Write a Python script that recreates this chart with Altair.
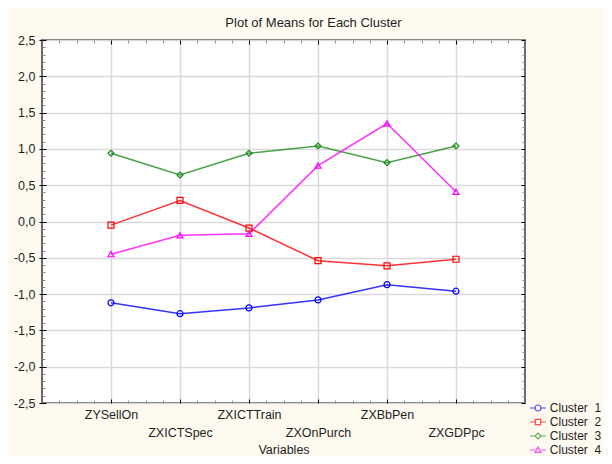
import json
import altair as alt
import pandas as pd

# ---------------- data ----------------
variables = ["ZYSellOn", "ZXICTSpec", "ZXICTTrain", "ZXOnPurch", "ZXBbPen", "ZXGDPpc"]
clusters = ["Cluster \u00a01", "Cluster \u00a02", "Cluster \u00a03", "Cluster \u00a04"]
cluster1 = [-1.12, -1.27, -1.19, -1.08, -0.87, -0.96]
cluster2 = [-0.05, 0.29, -0.09, -0.54, -0.61, -0.52]
cluster3 = [0.94, 0.64, 0.94, 1.04, 0.81, 1.04]
cluster4 = [-0.45, -0.19, -0.17, 0.77, 1.35, 0.41]
colors = ["#0000FF", "#FF0000", "#1A8C1A", "#FF00FF"]
shapes = ["circle", "square", "diamond", "triangle-up"]

rows = []
for name, vals in zip(clusters, [cluster1, cluster2, cluster3, cluster4]):
    for i, (var, v) in enumerate(zip(variables, vals)):
        rows.append({"pos": i + 1, "variable": var, "cluster": name, "value": v})
df = pd.DataFrame(rows)

FONT = "Liberation Sans"
TXT = "#1e1e1e"

x_scale = alt.Scale(domain=[0, 7], nice=False, zero=False)
y_scale = alt.Scale(domain=[-2.5, 2.5], nice=False, zero=False)

positions = list(range(1, len(variables) + 1))
y_major = [round(-2.5 + 0.5 * i, 1) for i in range(11)]
y_minor = [round(-2.5 + 0.1 * i, 1) for i in range(51) if i % 5 != 0]
x_minor = [q / 4 for q in range(1, 28) if q % 4 != 0]

xlabel_expr = json.dumps(variables) + "[datum.value - 1]"
ylabel_expr = "replace(replace(format(datum.value, '.1f'), '.', ','), '\u2212', '-')"


def tick_axis(orient, values, size, color):
    return alt.Axis(orient=orient, values=values, labels=False, grid=False,
                    domain=False, ticks=True, tickSize=size, tickColor=color,
                    tickWidth=1, offset=-size, title=None)


ax_x_grid = alt.Axis(orient="bottom", values=positions, grid=True, gridColor="#D9D9D9",
                     gridWidth=1.5, labels=False, ticks=False, domain=False,
                     title="Variables", titleFont=FONT, titleFontSize=12.5,
                     titleFontWeight="normal", titleColor=TXT, titleY=40.5,
                     titleBaseline="top")
ax_x_odd = alt.Axis(orient="bottom", values=positions[0::2], labelExpr=xlabel_expr,
                    labels=True, grid=False, ticks=False, domain=False, title=None,
                    labelPadding=5, labelFont=FONT, labelFontSize=12.5, labelColor=TXT)
ax_x_even = alt.Axis(orient="bottom", values=positions[1::2], labelExpr=xlabel_expr,
                     labels=True, grid=False, ticks=False, domain=False, title=None,
                     labelPadding=23, labelFont=FONT, labelFontSize=12.5, labelColor=TXT)
ax_y_main = alt.Axis(orient="left", values=y_major, labelExpr=ylabel_expr, grid=True,
                     gridColor="#D9D9D9", gridWidth=1.5, ticks=True, tickSize=3,
                     tickColor="#000000", domain=False, title=None, labelPadding=4,
                     labelFont=FONT, labelFontSize=12.5, labelColor=TXT)

axes_plan = [
    (ax_x_grid, ax_y_main),
    (ax_x_odd, tick_axis("left", y_major, 4, "#000000")),
    (ax_x_even, tick_axis("left", y_minor, 3, "#8a8a8a")),
    (tick_axis("top", positions, 4, "#000000"), tick_axis("right", y_major, 4, "#000000")),
    (tick_axis("top", x_minor, 3, "#8a8a8a"), tick_axis("right", y_minor, 3, "#8a8a8a")),
    (tick_axis("bottom", positions, 4, "#000000"), None),
    (tick_axis("bottom", x_minor, 3, "#8a8a8a"), None),
    (None, None),
]

base = alt.Chart(df)
layers = []
for i, name in enumerate(clusters):
    xa, ya = axes_plan[i]
    layers.append(
        base.mark_line(color=colors[i], strokeWidth=1.5, opacity=0.8)
        .encode(x=alt.X("pos:Q", scale=x_scale, axis=xa),
                y=alt.Y("value:Q", scale=y_scale, axis=ya))
        .transform_filter(alt.datum.cluster == name)
    )
for i, name in enumerate(clusters):
    xa, ya = axes_plan[4 + i]
    layers.append(
        base.mark_point(shape=shapes[i], filled=False, size=36, color=colors[i],
                        strokeWidth=1.2, opacity=1)
        .encode(x=alt.X("pos:Q", scale=x_scale, axis=xa),
                y=alt.Y("value:Q", scale=y_scale, axis=ya))
        .transform_filter(alt.datum.cluster == name)
    )

# legend symbols: a short line with the marker in its middle (unit box = 12px)
legend_paths = [
    "M-1.33,0H-0.5M0.5,0H1.33M-0.5,0A0.5,0.5 0 1,0 0.5,0A0.5,0.5 0 1,0 -0.5,0Z",
    "M-1.33,0H-0.45M0.45,0H1.33M-0.45,-0.45H0.45V0.45H-0.45Z",
    "M-1.33,0H-0.5M0.5,0H1.33M0,-0.5L0.5,0L0,0.5L-0.5,0Z",
    "M-1.33,0H-0.5M0.5,0H1.33M0,-0.5L0.5,0.4L-0.5,0.4Z",
]


def make_legend():
    return alt.Legend(title=None, orient="none", legendX=489, legendY=361,
                      symbolSize=144, symbolStrokeWidth=1.2, labelFont=FONT,
                      labelFontSize=12, labelColor=TXT, labelOffset=4.8,
                      rowPadding=1, padding=0)


legend_layer = (
    base.mark_point(filled=False, strokeWidth=1.2)
    .encode(
        x=alt.X("pos:Q", scale=x_scale, axis=None),
        y=alt.Y("value:Q", scale=y_scale, axis=None),
        color=alt.Color("cluster:N", scale=alt.Scale(domain=clusters, range=colors),
                        legend=make_legend()),
        shape=alt.Shape("cluster:N", scale=alt.Scale(domain=clusters, range=legend_paths),
                        legend=make_legend()),
    )
    .transform_filter(alt.datum.value > 100)
)
layers.append(legend_layer)

chart = (
    alt.layer(*layers)
    .resolve_axis(x="independent", y="independent")
    .properties(
        width=483, height=363,
        autosize=alt.AutoSizeParams(type="none"),
        padding={"left": 34, "top": 32, "right": 79, "bottom": 53},
        background="#FFFAF0",
        title=alt.TitleParams("Plot of Means for Each Cluster", font=FONT, fontSize=13,
                              fontWeight="normal", color=TXT, anchor="middle",
                              frame="group", dx=30, dy=12, offset=6,
                              baseline="alphabetic"),
    )
    .configure_view(fill="white", stroke="#6a6a6a", strokeWidth=2)
)

chart.save("out.html", embed_options={"renderer": "svg", "actions": False})
